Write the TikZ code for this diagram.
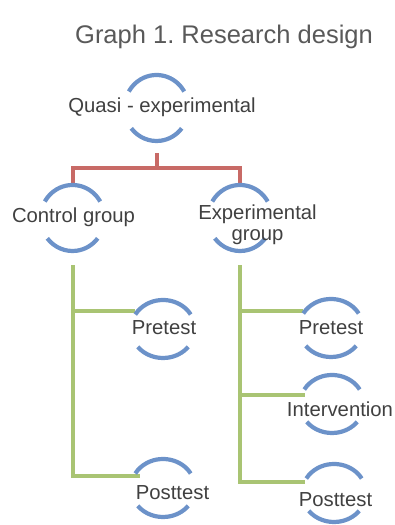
\documentclass[tikz,border=0pt]{standalone}
\usepackage{fontspec}
\setmainfont{Liberation Sans}
\frenchspacing
\usetikzlibrary{shapes.geometric,calc}
\definecolor{ringblue}{RGB}{108,146,201}
\definecolor{treered}{RGB}{200,106,102}
\definecolor{treegreen}{RGB}{169,196,115}
\definecolor{txtgray}{RGB}{64,64,64}
\definecolor{titlegray}{RGB}{89,89,89}

\begin{document}
\begin{tikzpicture}[x=1pt,y=1pt,
    bubble/.style={ellipse,draw=none,inner sep=0pt,minimum width=64pt},
    ringline/.style={draw=ringblue,line width=4.2pt},
    redline/.style={draw=treered,line width=4pt},
    greenline/.style={draw=treegreen,line width=4pt},
    lbl/.style={text=txtgray,font=\fontsize{20.3}{21}\selectfont,inner sep=0pt,anchor=base}]
  \useasboundingbox (0,0) rectangle (395,-525);
  \node[text=titlegray,font=\fontsize{25.5}{30}\selectfont,inner sep=0pt,anchor=base] (title) at (224,-43) {Graph 1. Research design};

  % bubbles
  \node[bubble,minimum height=66pt] (quasi) at (156.5,-108) {};
  \node[bubble,minimum height=66pt] (control) at (72.5,-218) {};
  \node[bubble,minimum height=66pt] (expgroup) at (240,-218) {};
  \node[bubble,minimum height=58pt] (preC) at (163,-329) {};
  \node[bubble,minimum height=58pt] (postC) at (163,-488) {};
  \node[bubble,minimum height=58pt] (preE) at (331,-328) {};
  \node[bubble,minimum height=58pt] (interv) at (332,-404) {};
  \node[bubble,minimum height=58pt] (postE) at (334,-493) {};

  % where the branches meet the bubbles
  \coordinate (preCin) at ([shift={(-28,18)}]preC.center);
  \coordinate (postCin) at ([shift={(-23,12)}]postC.center);
  \coordinate (preEin) at ([shift={(-28,17)}]preE.center);
  \coordinate (intervin) at ([shift={(-27,9)}]interv.center);
  \coordinate (postEin) at ([shift={(-29,11)}]postE.center);

  % tree lines
  \draw[redline] ([yshift=-12pt]quasi.south) -- ++(0,-15) -| (control.north);
  \draw[redline] ([yshift=-12pt]quasi.south) -- ++(0,-15) -| (expgroup.north);
  \draw[greenline] ([yshift=-14pt]control.south) |- (postCin);
  \draw[greenline] (control |- preCin) -- (preCin);
  \draw[greenline] ([yshift=-14pt]expgroup.south) |- (postEin);
  \draw[greenline] (expgroup |- preEin) -- (preEin);
  \draw[greenline] (expgroup |- intervin) -- (intervin);

  % open rings
  \foreach \n/\ry in {quasi/33pt,control/33pt,expgroup/33pt,preC/29pt,postC/29pt,preE/29pt,interv/29pt,postE/29pt} {
    \draw[ringline] (\n.center) ++(30:32pt and \ry) arc[start angle=30,end angle=150,x radius=32pt,y radius=\ry];
    \draw[ringline] (\n.center) ++(-142:32pt and \ry) arc[start angle=-142,end angle=-38,x radius=32pt,y radius=\ry];
  }

  % texts
  \node[lbl] (quasiText) at (162,-112) {Quasi - experimental};
  \node[lbl] (controlText) at (73.5,-222) {Control group};
  \node[lbl,anchor=center,align=center] (expText) at (257.5,-224.3) {Experimental\\group};
  \node[lbl] (preCText) at (164,-334) {Pretest};
  \node[lbl] (postCText) at (172.5,-499) {Posttest};
  \node[lbl] (preEText) at (331,-334) {Pretest};
  \node[lbl] (intervText) at (340,-416) {Intervention};
  \node[lbl] (postEText) at (335.5,-506) {Posttest};
\end{tikzpicture}
\end{document}
